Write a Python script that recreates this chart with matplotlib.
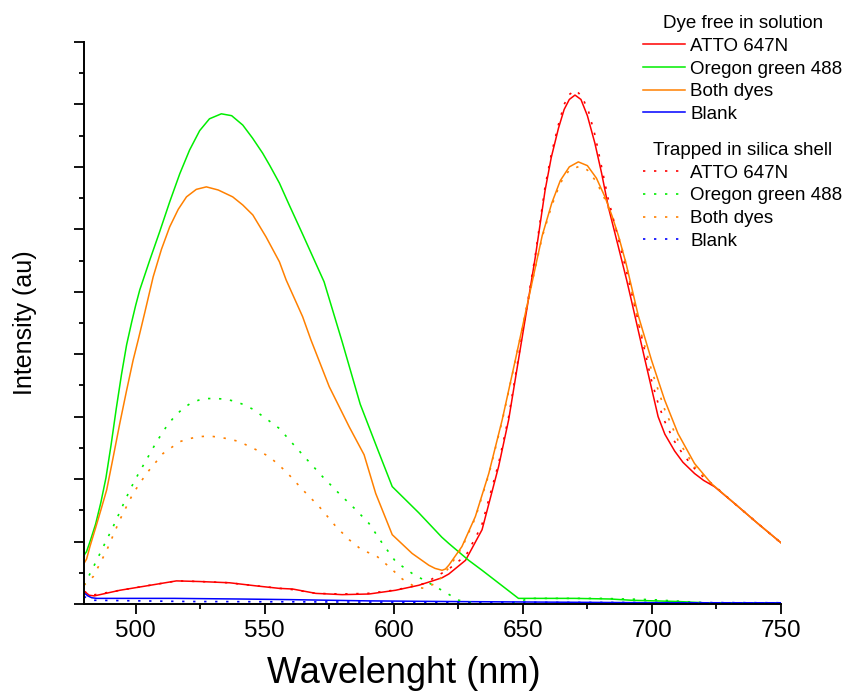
import numpy as np
import matplotlib
matplotlib.use("Agg")
import matplotlib.pyplot as plt
from matplotlib.ticker import MultipleLocator, NullFormatter

plt.rcParams['font.family'] = ['Liberation Sans', 'DejaVu Sans']

# ---- dye free in solution (solid lines) ----
atto_sol_wl = [480, 482, 484, 493.9, 504.2, 515.8, 524.8, 536.4, 546.7, 555.7, 560.8, 569.8, 580,
               590.4, 600.7, 609.7, 615, 618.7, 621.3, 627.8, 634.2, 640.6, 644.5, 648.3, 651.5,
               654.8, 658.6, 661, 663.8, 666, 668, 670.2, 672.5, 675, 677.9, 680.5, 683.1, 687,
               690.2, 692, 697.3, 702.4, 705, 708.8, 712, 716.5, 720, 724.2, 732, 741, 750]
atto_sol = [0.21, 0.14, 0.13, 0.22, 0.29, 0.37, 0.36, 0.34, 0.29, 0.25, 0.24, 0.17, 0.15,
            0.16, 0.22, 0.30, 0.37, 0.42, 0.48, 0.70, 1.19, 2.20, 2.95, 3.91, 4.71,
            5.55, 6.62, 7.15, 7.62, 7.92, 8.08, 8.15, 8.08, 7.82, 7.38, 6.90, 6.36, 5.72,
            5.19, 4.87, 3.91, 3.00, 2.72, 2.45, 2.27, 2.09, 1.98, 1.88, 1.61, 1.29, 0.98]

og_sol_wl = [480, 481, 482.5, 484.5, 486.5, 488.5, 490.5, 492.5, 494.5, 496.5, 498.5, 500,
             501.6, 505.5, 509.3, 513.2, 517.1, 520.9, 524.8, 528.6, 533.2, 537.2, 541.5,
             545.3, 549.2, 552, 555.7, 559.5, 564.6, 573, 580, 587, 594, 599.4,
             609.7, 618.6, 621.3, 629, 634.2, 648.3, 651, 670, 684, 692, 710, 720, 735, 750]
og_sol = [0.78, 0.84, 1.02, 1.28, 1.62, 2.02, 2.55, 3.13, 3.67, 4.15, 4.52, 4.78,
          5.03, 5.51, 5.96, 6.44, 6.89, 7.27, 7.58, 7.77, 7.85, 7.82, 7.67,
          7.46, 7.22, 7.02, 6.74, 6.39, 5.93, 5.16, 4.20, 3.20, 2.45, 1.88,
          1.46, 1.07, 0.97, 0.70, 0.54, 0.09, 0.09, 0.09, 0.08, 0.06, 0.04, 0.02, 0.01, 0.01]

both_sol_wl = [480, 481, 482.3, 484.5, 486.5, 488.8, 491.3, 493.9, 496.5, 499, 501, 503.5,
               506.8, 510, 513.2, 516.5, 519.7, 523.5, 527.4, 532, 537.6, 541.5, 545.4, 550.5,
               555.7, 558.3, 564.7, 567.9, 575, 582.7, 588.5, 593, 599.4, 607.1, 613.6, 616,
               618.7, 620, 621.3, 626.4, 631.6, 636.8, 642, 647.1, 651, 654.1, 657.5, 661.2,
               664.5, 668, 671.5, 675, 678.5, 681.8, 684.5, 687, 690, 694.7, 699.8, 704.9,
               710.1, 716.5, 723, 732, 741, 750]
both_sol = [0.65, 0.72, 0.92, 1.22, 1.50, 1.83, 2.35, 2.90, 3.42, 3.90, 4.23, 4.66,
            5.24, 5.68, 6.04, 6.32, 6.52, 6.64, 6.68, 6.63, 6.52, 6.39, 6.23, 5.88,
            5.48, 5.19, 4.60, 4.23, 3.48, 2.84, 2.39, 1.77, 1.11, 0.81, 0.62, 0.57,
            0.54, 0.56, 0.62, 0.92, 1.40, 2.09, 2.95, 3.91, 4.66, 5.25, 5.90, 6.42,
            6.78, 7.00, 7.08, 7.02, 6.82, 6.52, 6.22, 5.90, 5.45, 4.62, 3.91, 3.27,
            2.73, 2.25, 1.93, 1.61, 1.29, 0.98]

blank_sol_wl = [480, 481.5, 483, 485, 515, 540, 560, 590, 620, 660, 700, 750]
blank_sol = [0.18, 0.13, 0.10, 0.09, 0.09, 0.08, 0.07, 0.05, 0.04, 0.03, 0.02, 0.02]

# ---- trapped in silica shell (dotted lines) ----
atto_sh_wl = [480, 483, 494, 504, 516, 525, 536, 547, 556, 561, 570, 580, 590, 600, 606, 612,
              616, 621, 628, 634, 640.6, 644.5, 648.3, 651.5, 654.8, 658.6, 661, 663.8, 666,
              668, 670.5, 673, 675.5, 678, 680.5, 683, 687, 690, 694, 699.7, 702.5, 705,
              708.5, 712, 716.5, 720, 724, 732, 741, 750]
atto_sh = [0.20, 0.14, 0.22, 0.29, 0.37, 0.36, 0.34, 0.29, 0.25, 0.23, 0.17, 0.16, 0.17, 0.22,
           0.27, 0.33, 0.43, 0.55, 0.78, 1.25, 2.25, 3.00, 3.95, 4.75, 5.58, 6.68, 7.20, 7.68,
           8.00, 8.16, 8.23, 8.12, 7.88, 7.50, 7.00, 6.50, 5.85, 5.35, 4.65, 3.60, 3.20, 2.92,
           2.62, 2.40, 2.17, 2.03, 1.90, 1.61, 1.29, 0.98]

og_sh_wl = [480, 481, 483.5, 486.2, 488.8, 491.3, 494.5, 497.8, 501, 504.2, 508, 511.9, 515,
            518.3, 521.5, 524.8, 528, 531.2, 535, 538.9, 542, 545.4, 550.5, 555.7, 559.5,
            566, 572.4, 578.8, 585.3, 590.4, 595.6, 600.7, 607.1, 616.1, 625.2, 632, 640,
            648, 652, 680, 700, 720, 750]
og_sh = [0.30, 0.38, 0.58, 0.81, 1.03, 1.24, 1.53, 1.83, 2.08, 2.31, 2.59, 2.84, 3.00,
         3.13, 3.22, 3.27, 3.29, 3.29, 3.28, 3.24, 3.19, 3.12, 2.97, 2.81, 2.63,
         2.33, 2.04, 1.77, 1.51, 1.29, 0.97, 0.68, 0.49, 0.28, 0.06, 0.01, 0.00,
         0.02, 0.09, 0.09, 0.07, 0.02, 0.01]

both_sh_wl = [480, 483.6, 488.8, 493.9, 499, 504.2, 510.6, 517.1, 521, 524.8, 528.5, 532.5,
              536.5, 540.2, 546.7, 551.8, 558.3, 564.7, 571.1, 577.6, 582.7, 587.8, 593, 598.1,
              603.3, 608.4, 612, 617, 621.3, 626.4, 631.6, 636.8, 642, 647.1, 651, 654.1,
              657.5, 661.2, 664.5, 668, 672, 675, 678.5, 681.8, 684.5, 687, 690, 694.7,
              699.8, 704.9, 710.1, 716.5, 723, 732, 741, 750]
both_sh = [0.30, 0.44, 0.86, 1.35, 1.77, 2.09, 2.41, 2.60, 2.65, 2.68, 2.69, 2.67,
           2.64, 2.60, 2.47, 2.36, 2.12, 1.83, 1.56, 1.24, 1.03, 0.86, 0.78, 0.60,
           0.40, 0.27, 0.25, 0.35, 0.58, 0.90, 1.38, 2.07, 2.93, 3.90, 4.66, 5.25,
           5.88, 6.38, 6.74, 6.95, 7.01, 6.95, 6.76, 6.48, 6.20, 5.90, 5.45, 4.50,
           3.75, 3.12, 2.62, 2.20, 1.93, 1.61, 1.29, 0.98]

blank_sh_wl = [480, 483, 520, 600, 750]
blank_sh = [0.12, 0.06, 0.04, 0.03, 0.02]

RED, GREEN, ORANGE, BLUE = '#ff0000', '#00ee00', '#ff8000', '#0000ff'
dot = (0, (1.4, 5.2))

fig = plt.figure(figsize=(8.45, 6.92), dpi=100)
ax = fig.add_axes([84 / 845, 1 - 604 / 692, 697 / 845, 562 / 692])

lw = 1.1
h_sol = []
h_sol += ax.plot(atto_sol_wl, atto_sol, color=RED, lw=lw, label='ATTO 647N')
h_sol += ax.plot(og_sol_wl, og_sol, color=GREEN, lw=lw, label='Oregon green 488')
h_sol += ax.plot(both_sol_wl, both_sol, color=ORANGE, lw=lw, label='Both dyes')
h_sol += ax.plot(blank_sol_wl, blank_sol, color=BLUE, lw=lw, label='Blank')

h_sh = []
h_sh += ax.plot(atto_sh_wl, atto_sh, color=RED, lw=1.2, ls=dot, label='ATTO 647N')
h_sh += ax.plot(og_sh_wl, og_sh, color=GREEN, lw=1.2, ls=dot, label='Oregon green 488')
h_sh += ax.plot(both_sh_wl, both_sh, color=ORANGE, lw=1.2, ls=dot, label='Both dyes')
h_sh += ax.plot(blank_sh_wl, blank_sh, color=BLUE, lw=1.2, ls=dot, label='Blank')

ax.set_xlim(480, 750)
ax.set_ylim(0, 9)
ax.spines['top'].set_visible(False)
ax.spines['right'].set_visible(False)
for s in ('left', 'bottom'):
    ax.spines[s].set_linewidth(1.4)
ax.xaxis.set_major_locator(MultipleLocator(50))
ax.xaxis.set_minor_locator(MultipleLocator(25))
ax.yaxis.set_major_locator(MultipleLocator(1))
ax.yaxis.set_minor_locator(MultipleLocator(0.5))
ax.yaxis.set_major_formatter(NullFormatter())
ax.tick_params(which='major', direction='out', length=7.5, width=1.3, labelsize=17.5, pad=4)
ax.tick_params(which='minor', direction='out', length=3.8, width=1.3)

ax.set_xlabel('Wavelenght (nm)', fontsize=26)
ax.set_ylabel('Intensity (au)', fontsize=18)
ax.xaxis.set_label_coords((404 - 84) / 697, -0.093)
ax.yaxis.set_label_coords(-0.068, 0.5)

leg_kw = dict(loc='upper left', frameon=False, fontsize=13.5, title_fontsize=13.5,
              handlelength=2.24, handletextpad=0.27, labelspacing=0.3,
              borderpad=0, borderaxespad=0, bbox_transform=fig.transFigure)
leg1 = ax.legend(handles=h_sol, title='Dye free in solution',
                 bbox_to_anchor=(643 / 845, 1 - 15 / 692), **leg_kw)
ax.add_artist(leg1)
ax.legend(handles=h_sh, title='Trapped in silica shell',
          bbox_to_anchor=(643 / 845, 1 - 142 / 692), **leg_kw)

fig.savefig('out.png', dpi=100)
